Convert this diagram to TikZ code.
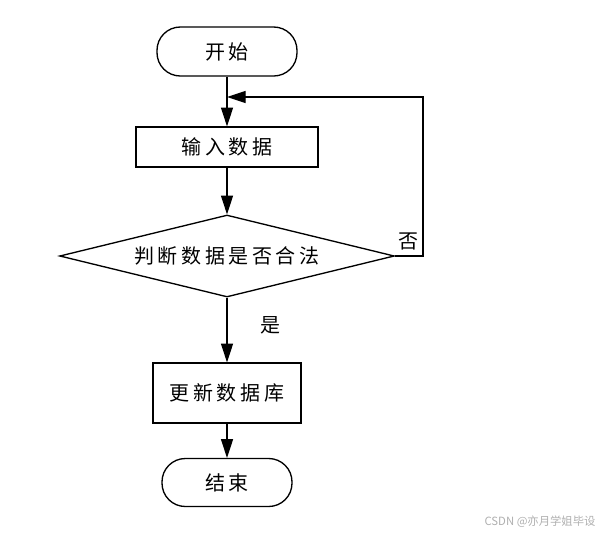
\documentclass[tikz,border=0pt]{standalone}
\usepackage{fontspec}
\setmainfont{Noto Sans CJK SC}
\newfontfamily\cjk[LetterSpace=18]{Noto Sans CJK SC}
\usetikzlibrary{shapes.geometric,arrows.meta}
\definecolor{wmgray}{RGB}{175,175,175}
\tikzset{
  base/.style={draw=black, line width=1pt, inner sep=0pt, font=\cjk\fontsize{15pt}{18pt}\selectfont},
  stadium/.style={base, rectangle, rounded corners=17.5pt},
  procbox/.style={base, rectangle},
  decide/.style={base, diamond, aspect=4.08},
  flow/.style={line width=1pt, -{Triangle[length=14pt,width=9pt]}},
  lbl/.style={inner sep=0pt, font=\cjk\fontsize{15pt}{18pt}\selectfont}
}
\begin{document}
\begin{tikzpicture}[x=0.75pt,y=-0.75pt]
\useasboundingbox (0,0) rectangle (603,533);
\node[stadium, minimum width=105pt, minimum height=36.75pt] (start) at (227,51.5) {开始};
\node[procbox, minimum width=136.5pt, minimum height=30pt] (input) at (227,147) {输入数据};
\node[decide, minimum width=251pt, minimum height=61.5pt] (dec) at (227,256) {判断数据是否合法};
\node[procbox, minimum width=111pt, minimum height=45pt] (update) at (227,393) {更新数据库};
\node[stadium, minimum width=97.5pt, minimum height=36pt] (end) at (227,482.5) {结束};
\coordinate (join) at (227,97);
\coordinate (fbc) at (423,97);
\draw[flow] (start) -- (input);
\draw[flow] (input.south) -- (dec.north);
\draw[flow] (dec.east) -| (fbc) -- (join);
\draw[flow] (dec.south) -- (update.north);
\draw[flow] (update) -- (end);
\node[lbl] (no) at (408,241) {否};
\node[lbl] (yes) at (270,325) {是};
\node[inner sep=0pt, text=wmgray, font=\fontsize{8.5pt}{10pt}\selectfont] (wm) at (540,522) {CSDN @亦月学姐毕设};
\end{tikzpicture}
\end{document}
